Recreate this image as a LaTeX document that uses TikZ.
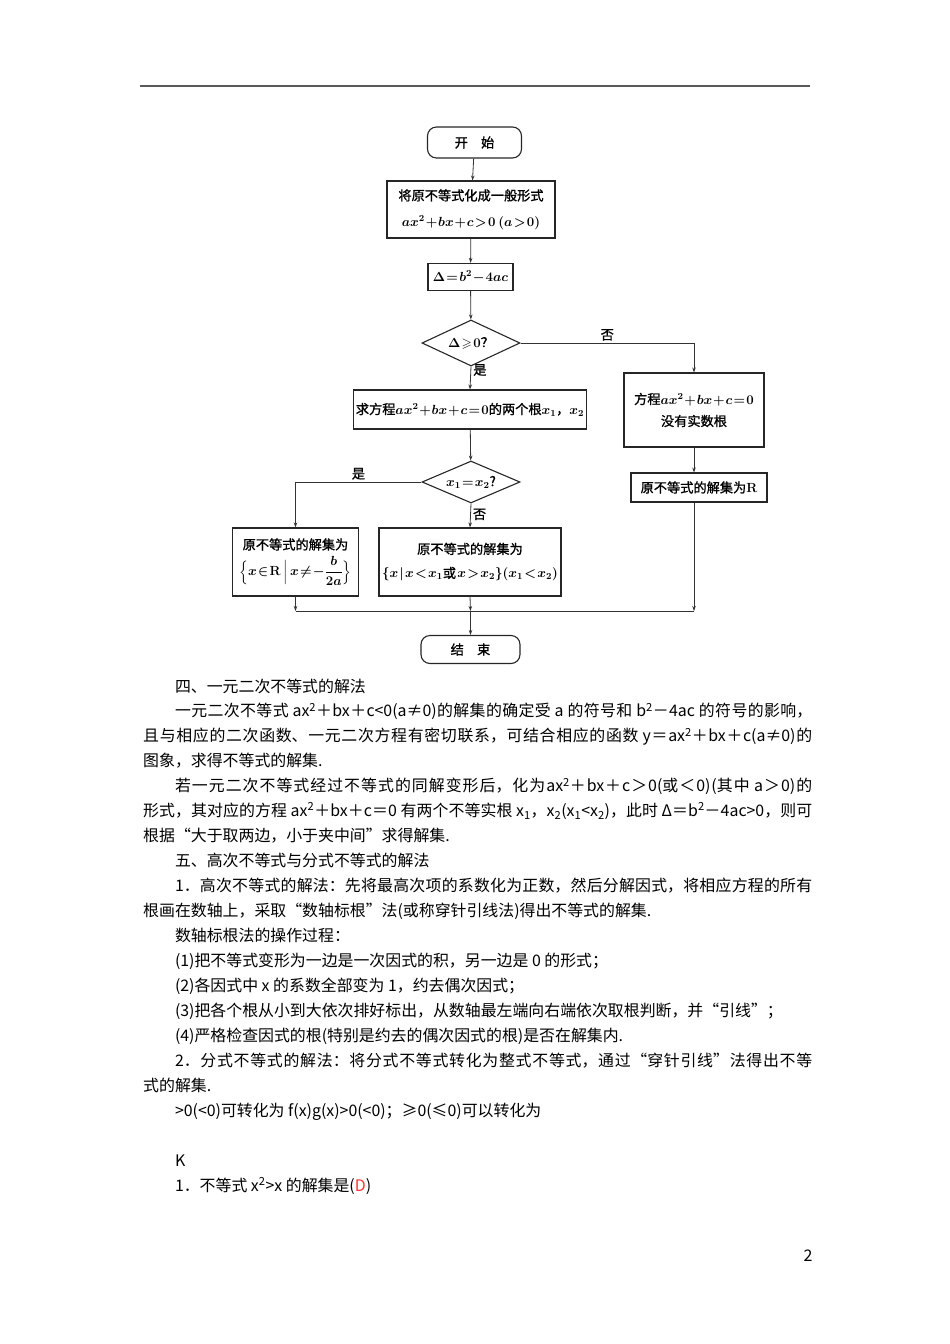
\RequirePackage{fix-cm}
\documentclass[tikz,border=0pt]{standalone}
\usepackage{amsmath}
\usepackage{amssymb}
\usepackage{fontspec}
\usepackage{xcolor}
\newfontfamily\cjk{Noto Sans CJK SC}
\newfontfamily\cjkfat{Noto Sans CJK SC}[FakeBold=1.2]
\usetikzlibrary{shapes.geometric,arrows.meta}

\newcommand\flowfont{\cjkfat\fontsize{13.2}{16}\selectfont\boldmath
  \thinmuskip=1.5mu\medmuskip=1mu\thickmuskip=1.5mu}

\tikzset{
  fbox/.style={draw=black!85, line width=1.1pt, inner sep=2pt, align=center, font=\flowfont},
  term/.style={fbox, rounded corners=9pt},
  test/.style={diamond, draw=black!85, line width=1.1pt, inner sep=0pt, aspect=2, font=\flowfont},
  wire/.style={draw=black!80, line width=0.8pt},
  arr/.style={wire, -{Stealth[length=5pt,width=3.5pt]}},
  lbl/.style={font=\flowfont, inner sep=2pt}
}

\begin{document}
\begin{tikzpicture}[x=1pt,y=-1pt]
\useasboundingbox (0,0) rectangle (950,1344);

% Draw header rule
\draw[line width=1.4pt, black!65] (140,86) -- (810,86);

% Draw flowchart boxes
\node[term, minimum width=94pt, minimum height=31pt] (start) at (474.5,142.5) {开\quad 始};
\node[fbox, minimum width=168pt, minimum height=57pt] (gen) at (471,209.5)
  {将原不等式化成一般形式\\[10pt] $ax^2+bx+c>0\ (a>0)$};
\node[fbox, minimum width=85pt, minimum height=27pt] (delta) at (470.5,277) {$\Delta=b^2-4ac$};
\node[test, minimum width=98pt, minimum height=46pt] (dec1) at (471,343) {$\Delta\geqslant0$？};
\node[fbox, minimum width=228pt, minimum height=39pt] (roots) at (470,409.5)
  {求方程$ax^2+bx+c=0$的两个根$x_1$，$x_2$};
\node[fbox, minimum width=140pt, minimum height=74pt] (noroot) at (694,410)
  {方程$ax^2+bx+c=0$\\[6pt] 没有实数根};
\node[fbox, minimum width=136pt, minimum height=29pt] (allR) at (699,487.5) {原不等式的解集为$\mathbf{R}$};
\node[test, minimum width=98pt, minimum height=42pt] (dec2) at (471,482) {$x_1=x_2$?};
\node[fbox, minimum width=126pt, minimum height=68pt] (sol1) at (295.5,562)
  {原不等式的解集为\\[5pt] $\Bigl\{x\in\mathbf{R}\,\Bigm|\,x\neq-\dfrac{b}{2a}\Bigr\}$};
\node[fbox, minimum width=182pt, minimum height=68pt] (sol2) at (470,562)
  {原不等式的解集为\\[8pt] $\{x\mid x<x_1$或$\;x>x_2\}(x_1<x_2)$};
\node[term, minimum width=99pt, minimum height=28pt] (end) at (470.5,649.5) {结\quad 束};
\coordinate (merge) at (470.5,611);

% Draw connectors
\draw[arr] (start) -- (gen);
\draw[arr] (gen) -- (delta);
\draw[arr] (delta) -- (dec1);
\draw[arr] (dec1.south) -- node[lbl, pos=0.15, right] {是} (roots.north);
\draw[arr] (dec1.east) -| node[lbl, pos=0.25, above] {否} (noroot.north);
\draw[arr] (roots) -- (dec2);
\draw[arr] (noroot.south) -- (noroot.south |- allR.north);
\draw[arr] (dec2.west) -| node[lbl, pos=0.25, above] {是} (sol1.north);
\draw[arr] (dec2.south) -- node[lbl, pos=0.45, right] {否} (sol2.north);
\draw[arr] (sol1.south) -- (sol1.south |- merge);
\draw[arr] (sol2.south) -- (merge);
\draw[arr] (noroot.south |- allR.south) -- (noroot.south |- merge);
\draw[wire] (sol1.south |- merge) -- (noroot.south |- merge);
\draw[arr] (merge) -- (end);

% Draw notes below the chart
\node[anchor=base west, inner sep=0pt, text width=669pt, align=justify,
      font=\cjk\fontsize{15.9}{24.95}\selectfont] (notes) at (143,692) {%
\XeTeXlinebreaklocale "zh"\XeTeXlinebreakskip=0pt plus 2pt minus 0.4pt\parskip=0pt
\hspace*{2em}四、一元二次不等式的解法\par
\hspace*{2em}一元二次不等式 ax\textsuperscript{2}＋bx＋c<0(a≠0)的解集的确定受 a 的符号和 b\textsuperscript{2}－4ac 的符号的影响，\linebreak
且与相应的二次函数、一元二次方程有密切联系，可结合相应的函数 y＝ax\textsuperscript{2}＋bx＋c(a≠0)的\linebreak
图象，求得不等式的解集.\par
\hspace*{2em}若一元二次不等式经过不等式的同解变形后，化为ax\textsuperscript{2}＋bx＋c＞0(或＜0)(其中 a＞0)的\linebreak
形式，其对应的方程 ax\textsuperscript{2}＋bx＋c＝0 有两个不等实根 x\textsubscript{1}，x\textsubscript{2}(x\textsubscript{1}<x\textsubscript{2})，此时 Δ＝b\textsuperscript{2}－4ac>0，则可\linebreak
根据“大于取两边，小于夹中间”求得解集.\par
\hspace*{2em}五、高次不等式与分式不等式的解法\par
\hspace*{2em}1．高次不等式的解法：先将最高次项的系数化为正数，然后分解因式，将相应方程的所有\linebreak
根画在数轴上，采取“数轴标根”法(或称穿针引线法)得出不等式的解集.\par
\hspace*{2em}数轴标根法的操作过程：\par
\hspace*{2em}(1)把不等式变形为一边是一次因式的积，另一边是 0 的形式；\par
\hspace*{2em}(2)各因式中 x 的系数全部变为 1，约去偶次因式；\par
\hspace*{2em}(3)把各个根从小到大依次排好标出，从数轴最左端向右端依次取根判断，并“引线”；\par
\hspace*{2em}(4)严格检查因式的根(特别是约去的偶次因式的根)是否在解集内.\par
\hspace*{2em}2．分式不等式的解法：将分式不等式转化为整式不等式，通过“穿针引线”法得出不等\linebreak
式的解集.\par
\hspace*{2em}>0(<0)可转化为 f(x)g(x)>0(<0)；≥0(≤0)可以转化为\par
\vspace{24.95pt}
\hspace*{2em}K\par
\hspace*{2em}1．不等式 x\textsuperscript{2}>x 的解集是(\textcolor{red!80}{D})};

% Page number
\node[font=\cjk\fontsize{16}{16}\selectfont] (pageno) at (808,1256) {2};
\end{tikzpicture}
\end{document}
